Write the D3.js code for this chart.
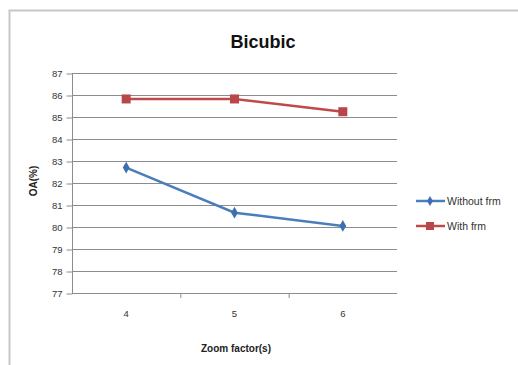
<!DOCTYPE html>
<html>
<head>
<meta charset="utf-8">
<script src="https://cdn.jsdelivr.net/npm/d3@7"></script>
<style>
  body { margin: 0; background: #fff; }
  text { font-family: "Liberation Sans", Arial, sans-serif; }
</style>
</head>
<body>
<div id="chart"></div>
<script>
// data
var zoomFactors = ["4", "5", "6"];
var withoutFrm = [82.7, 80.65, 80.05];
var withFrm = [85.82, 85.82, 85.24];
var yTicks = [77, 78, 79, 80, 81, 82, 83, 84, 85, 86, 87];

var W = 518, H = 365;
var plot = {left: 72, right: 397, top: 73, bottom: 293};

var svg = d3.select("#chart").append("svg")
    .attr("width", W)
    .attr("height", H);

// chart frame
svg.append("rect")
    .attr("x", 9.5).attr("y", 10.5)
    .attr("width", 530).attr("height", 380)
    .attr("fill", "#fff")
    .attr("stroke", "#c8c8c8")
    .attr("stroke-width", 2);

var x = d3.scaleBand()
    .domain(zoomFactors)
    .range([plot.left, plot.right]);

var y = d3.scaleLinear()
    .domain([77, 87])
    .range([plot.bottom, plot.top]);

// gridlines
svg.append("g")
  .selectAll("line")
  .data(yTicks.slice(1))
  .enter().append("line")
    .attr("x1", plot.left).attr("x2", plot.right)
    .attr("y1", function(d) { return y(d) + 0.5; })
    .attr("y2", function(d) { return y(d) + 0.5; })
    .attr("stroke", "#8c8c8c")
    .attr("stroke-width", 1);

// y axis
var yAxis = svg.append("g")
    .attr("transform", "translate(" + (plot.left + 0.5) + ",0.5)")
    .call(d3.axisLeft(y).tickValues(yTicks).tickSize(6).tickPadding(4));
yAxis.selectAll("line, path").attr("stroke", "#8c8c8c");
yAxis.select(".domain").attr("d", "M0," + plot.top + "V" + plot.bottom);
yAxis.selectAll("text").attr("font-size", 9.5).attr("fill", "#333");

// x axis
var xAxis = svg.append("g")
    .attr("transform", "translate(0," + (plot.bottom + 0.5) + ")")
    .call(d3.axisBottom(x).tickSize(0).tickPadding(17));
xAxis.select(".domain").attr("stroke", "#8c8c8c").attr("d", "M" + plot.left + ",0H" + plot.right);
xAxis.selectAll("text").attr("font-size", 9.5).attr("fill", "#333");
// little ticks between the categories
svg.append("g")
  .selectAll("line")
  .data(zoomFactors.slice(1))
  .enter().append("line")
    .attr("x1", function(d) { return x(d) + 0.5; })
    .attr("x2", function(d) { return x(d) + 0.5; })
    .attr("y1", plot.bottom).attr("y2", plot.bottom + 5)
    .attr("stroke", "#8c8c8c");

// titles
svg.append("text")
    .attr("x", 263).attr("y", 48)
    .attr("text-anchor", "middle")
    .attr("font-size", 18).attr("font-weight", "bold")
    .attr("fill", "#111")
    .text("Bicubic");

svg.append("text")
    .attr("x", 236).attr("y", 352)
    .attr("text-anchor", "middle")
    .attr("font-size", 10).attr("font-weight", "bold")
    .attr("fill", "#222")
    .text("Zoom factor(s)");

svg.append("text")
    .attr("transform", "translate(37,181) rotate(-90)")
    .attr("text-anchor", "middle")
    .attr("font-size", 10).attr("font-weight", "bold")
    .attr("fill", "#222")
    .text("OA(%)");

var cx = function(d, i) { return x(zoomFactors[i]) + x.bandwidth() / 2; };
var line = d3.line().x(cx).y(function(d) { return y(d); });

// Without frm series
svg.append("path")
    .datum(withoutFrm)
    .attr("d", line)
    .attr("fill", "none")
    .attr("stroke", "#4a7ebb")
    .attr("stroke-width", 2.5);
svg.append("g").selectAll("path")
    .data(withoutFrm)
    .enter().append("path")
    .attr("d", d3.symbol().type(d3.symbolDiamond).size(40))
    .attr("transform", function(d, i) { return "translate(" + cx(d, i) + "," + y(d) + ")"; })
    .attr("fill", "#3d6fb0");

// With frm series
svg.append("path")
    .datum(withFrm)
    .attr("d", line)
    .attr("fill", "none")
    .attr("stroke", "#be4b48")
    .attr("stroke-width", 2.5);
svg.append("g").selectAll("rect")
    .data(withFrm)
    .enter().append("rect")
    .attr("x", function(d, i) { return cx(d, i) - 4.5; })
    .attr("y", function(d) { return y(d) - 4.5; })
    .attr("width", 9).attr("height", 9)
    .attr("fill", "#b8474a");

// legend
var legend = [
  {name: "Without frm", color: "#4a7ebb", y: 201},
  {name: "With frm", color: "#be4b48", y: 226}
];
var lg = svg.append("g");
legend.forEach(function(l, i) {
  lg.append("line")
    .attr("x1", 416).attr("x2", 445)
    .attr("y1", l.y).attr("y2", l.y)
    .attr("stroke", l.color).attr("stroke-width", 2.5);
  if (i == 0) {
    lg.append("path")
      .attr("d", d3.symbol().type(d3.symbolDiamond).size(30))
      .attr("transform", "translate(430," + l.y + ")")
      .attr("fill", "#3d6fb0");
  } else {
    lg.append("rect")
      .attr("x", 426).attr("y", l.y - 4)
      .attr("width", 8).attr("height", 8)
      .attr("fill", "#b8474a");
  }
  lg.append("text")
    .attr("x", 447).attr("y", l.y + 3.5)
    .attr("font-size", 10.5).attr("fill", "#333")
    .text(l.name);
});
</script>
</body>
</html>
